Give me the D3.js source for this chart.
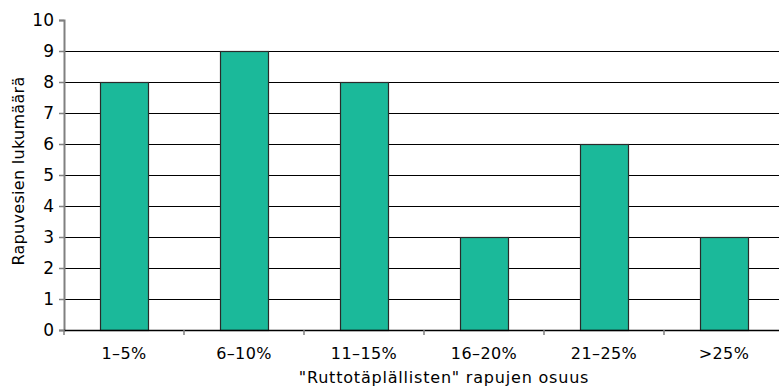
<!DOCTYPE html>
<html>
<head>
<meta charset="utf-8">
<script src="https://cdn.jsdelivr.net/npm/d3@7"></script>
<style>
  html, body { margin: 0; padding: 0; background: #fff; }
  svg { display: block; font-family: "DejaVu Sans", "Open Sans", sans-serif; }
</style>
</head>
<body>
<svg id="chart" width="779" height="388"></svg>
<script>
// Share of crayfish with plague spots, per class
const categories = ["1–5%", "6–10%", "11–15%", "16–20%", "21–25%", ">25%"];
const counts = [8, 9, 8, 3, 6, 3];
const yTicks = [0, 1, 2, 3, 4, 5, 6, 7, 8, 9, 10];
const yTitle = "Rapuvesien lukumäärä";
const xTitle = "\"Ruttotäplällisten\" rapujen osuus";

const svg = d3.select("#chart");
const plotLeft = 64, plotRight = 784, plotTop = 20, plotBottom = 330;
const fontSize = 16;

const x = d3.scaleBand()
  .domain(categories)
  .range([plotLeft, plotRight])
  .paddingInner(0.6)
  .paddingOuter(0.3);

const y = d3.scaleLinear().domain([0, 10]).range([plotBottom, plotTop]);

// horizontal gridlines
svg.append("g")
  .selectAll("line")
  .data(yTicks.filter(v => v > 0 && v < 10))
  .join("line")
  .attr("x1", plotLeft).attr("x2", plotRight)
  .attr("y1", d => Math.round(y(d)) + 0.5)
  .attr("y2", d => Math.round(y(d)) + 0.5)
  .attr("stroke", "#000")
  .attr("stroke-width", 1);

// bars
svg.append("g")
  .selectAll("rect")
  .data(counts)
  .join("rect")
  .attr("x", (d, i) => Math.round(x(categories[i])) + 0.5)
  .attr("y", d => Math.round(y(d)) + 0.5)
  .attr("width", x.bandwidth())
  .attr("height", d => Math.round(y(0)) - Math.round(y(d)))
  .attr("fill", "#1bb99a")
  .attr("stroke", "#2a2a2a")
  .attr("stroke-width", 1.2);

// y axis
const yAxis = svg.append("g")
  .attr("transform", `translate(${plotLeft},0)`)
  .call(d3.axisLeft(y).tickValues(yTicks).tickSize(5).tickPadding(5).tickFormat(d3.format("d")));
yAxis.select(".domain").attr("stroke", "#808080").attr("stroke-width", 2);
yAxis.selectAll(".tick line").attr("stroke", "#808080").attr("stroke-width", 1.5);
yAxis.selectAll("text").attr("font-size", fontSize + 1).attr("fill", "#000")
  .style("font-family", "'DejaVu Sans', sans-serif");

// x axis: baseline plus boundary ticks
const xAxis = svg.append("g")
  .attr("transform", `translate(0,${plotBottom})`);
xAxis.append("line")
  .attr("x1", plotLeft).attr("x2", plotRight)
  .attr("y1", 0.5).attr("y2", 0.5)
  .attr("stroke", "#000").attr("stroke-width", 1.5);
const bounds = categories.map(c => x(c) - x.step() * x.paddingOuter());
xAxis.selectAll(".btick")
  .data(bounds)
  .join("line")
  .attr("class", "btick")
  .attr("x1", d => Math.round(d)).attr("x2", d => Math.round(d))
  .attr("y1", 0).attr("y2", 5)
  .attr("stroke", "#808080").attr("stroke-width", 1.5);
xAxis.selectAll(".lbl")
  .data(categories)
  .join("text")
  .attr("class", "lbl")
  .attr("x", d => x(d) + x.bandwidth() / 2)
  .attr("y", 29)
  .attr("text-anchor", "middle")
  .attr("font-size", fontSize)
  .attr("letter-spacing", 0.4)
  .text(d => d);

// axis titles
svg.append("text")
  .attr("transform", `translate(24,171) rotate(-90)`)
  .attr("text-anchor", "middle")
  .attr("font-size", fontSize)
  .attr("letter-spacing", 0.3)
  .text(yTitle);

svg.append("text")
  .attr("x", 444)
  .attr("y", 383)
  .attr("text-anchor", "middle")
  .attr("font-size", fontSize)
  .attr("letter-spacing", 0.8)
  .text(xTitle);
</script>
</body>
</html>
